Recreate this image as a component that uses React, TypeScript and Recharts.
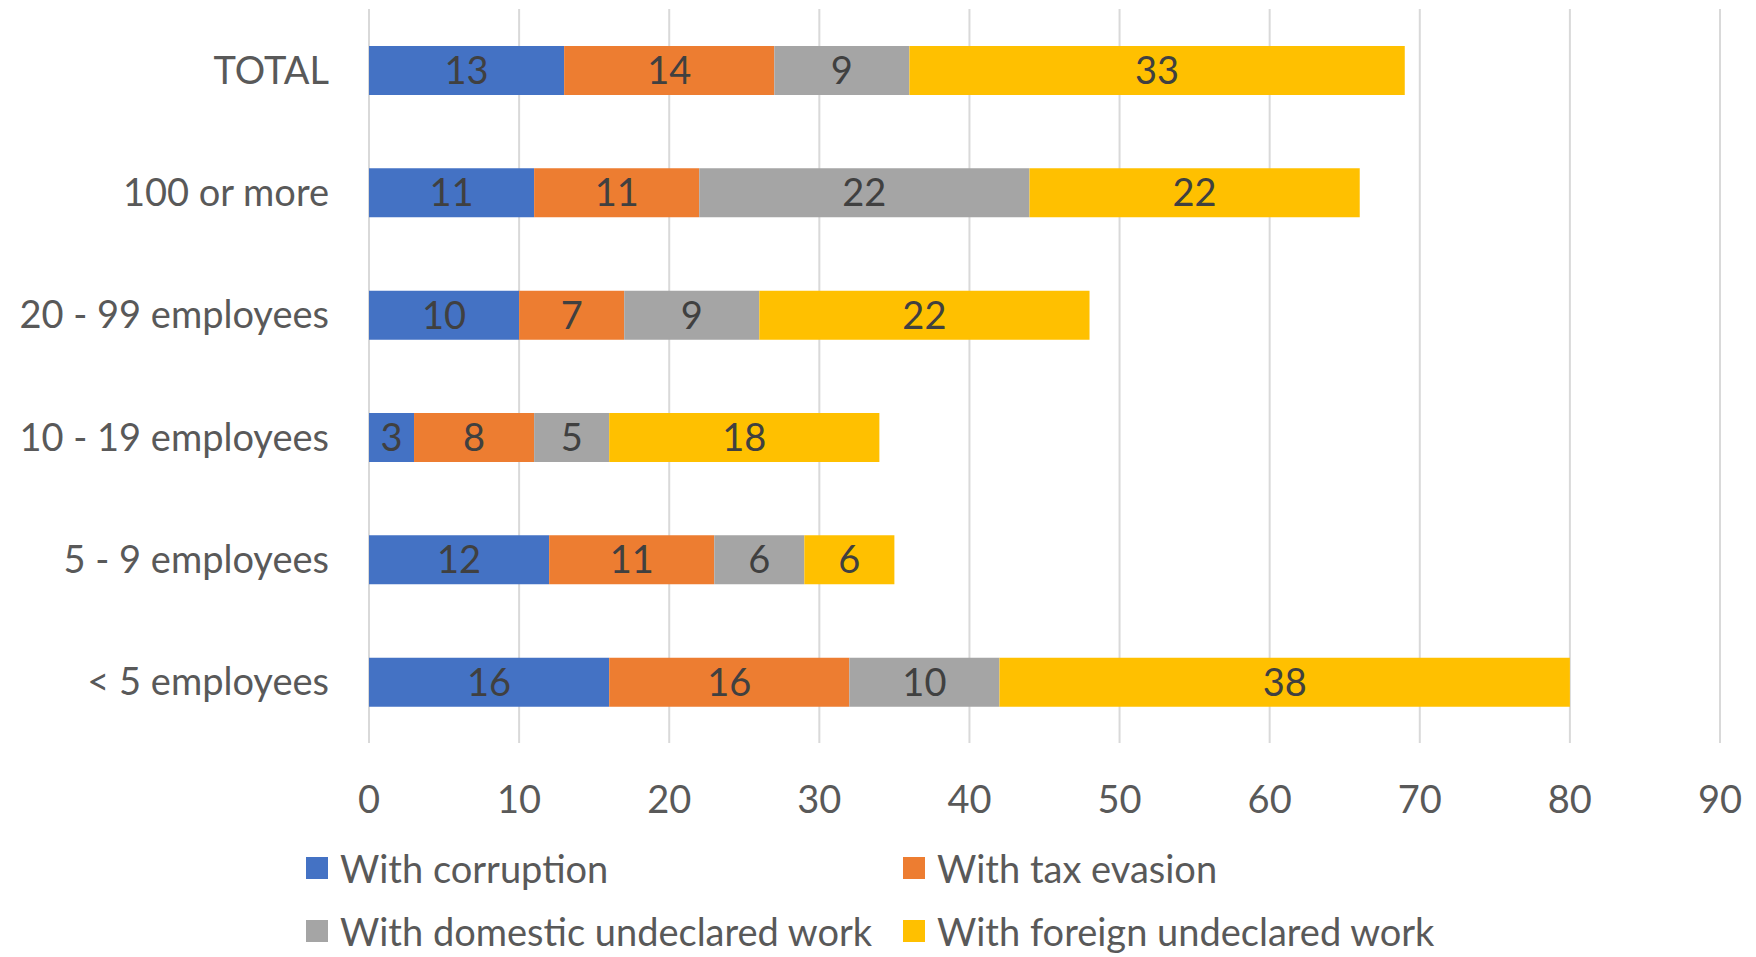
import { BarChart, Bar, XAxis, YAxis, CartesianGrid, Legend, LabelList } from "recharts";

const categories = ["TOTAL", "100 or more", "20 - 99 employees", "10 - 19 employees", "5 - 9 employees", "< 5 employees"];
const corruption = [13, 11, 10, 3, 12, 16];
const taxEvasion = [14, 11, 7, 8, 11, 16];
const domesticWork = [9, 22, 9, 5, 6, 10];
const foreignWork = [33, 22, 22, 18, 6, 38];
const xTicks = [0, 10, 20, 30, 40, 50, 60, 70, 80, 90];

const series = [
  { key: "corruption", name: "With corruption", color: "#4472C4" },
  { key: "tax", name: "With tax evasion", color: "#ED7D31" },
  { key: "domestic", name: "With domestic undeclared work", color: "#A5A5A5" },
  { key: "foreign", name: "With foreign undeclared work", color: "#FFC000" },
];

const data = categories.map((name, i) => ({
  name,
  corruption: corruption[i],
  tax: taxEvasion[i],
  domestic: domesticWork[i],
  foreign: foreignWork[i],
}));

const FONT = "Lato, 'Open Sans', sans-serif";

// legend laid out like Excel: two columns, two rows
const legendPos = [
  { left: 306, top: 39 },
  { left: 903, top: 39 },
  { left: 306, top: 102 },
  { left: 903, top: 102 },
];

function ExcelLegend() {
  return (
    <div style={{ position: "relative", width: 1756, height: 148, fontFamily: FONT }}>
      {series.map((s, i) => (
        <div
          key={s.key}
          style={{
            position: "absolute",
            left: legendPos[i].left,
            top: legendPos[i].top,
            height: 40,
            display: "flex",
            alignItems: "center",
            whiteSpace: "nowrap",
          }}
        >
          <span style={{ width: 22, height: 22, background: s.color, marginRight: 12, display: "inline-block" }} />
          <span style={{ fontSize: 38, color: "#595959" }}>{s.name}</span>
        </div>
      ))}
    </div>
  );
}

export default function App() {
  return (
    <div style={{ position: "absolute", left: 0, top: 0, background: "#fff" }}>
      <BarChart
        width={1756}
        height={957}
        data={data}
        layout="vertical"
        margin={{ top: 9, right: 36, bottom: 0, left: 0 }}
        barSize={49}
      >
        <CartesianGrid horizontal={false} stroke="#d9d9d9" strokeWidth={2} />
        <XAxis
          type="number"
          domain={[0, 90]}
          ticks={xTicks}
          axisLine={false}
          tickLine={false}
          tickSize={0}
          tickMargin={43}
          height={66}
          tick={{ fontSize: 38, fill: "#595959", fontFamily: FONT }}
        />
        <YAxis
          type="category"
          dataKey="name"
          width={369}
          axisLine={false}
          tickLine={false}
          tickSize={0}
          tickMargin={40}
          tick={{ fontSize: 38, fill: "#595959", fontFamily: FONT }}
        />
        <Legend verticalAlign="bottom" content={() => <ExcelLegend />} wrapperStyle={{ left: 0, bottom: 0, width: 1756, height: 148 }} />
        {series.map((s) => (
          <Bar key={s.key} dataKey={s.key} name={s.name} stackId="a" fill={s.color} isAnimationActive={false}>
            <LabelList dataKey={s.key} position="center" fill="#404040" fontSize={38} fontFamily={FONT} />
          </Bar>
        ))}
      </BarChart>
    </div>
  );
}
